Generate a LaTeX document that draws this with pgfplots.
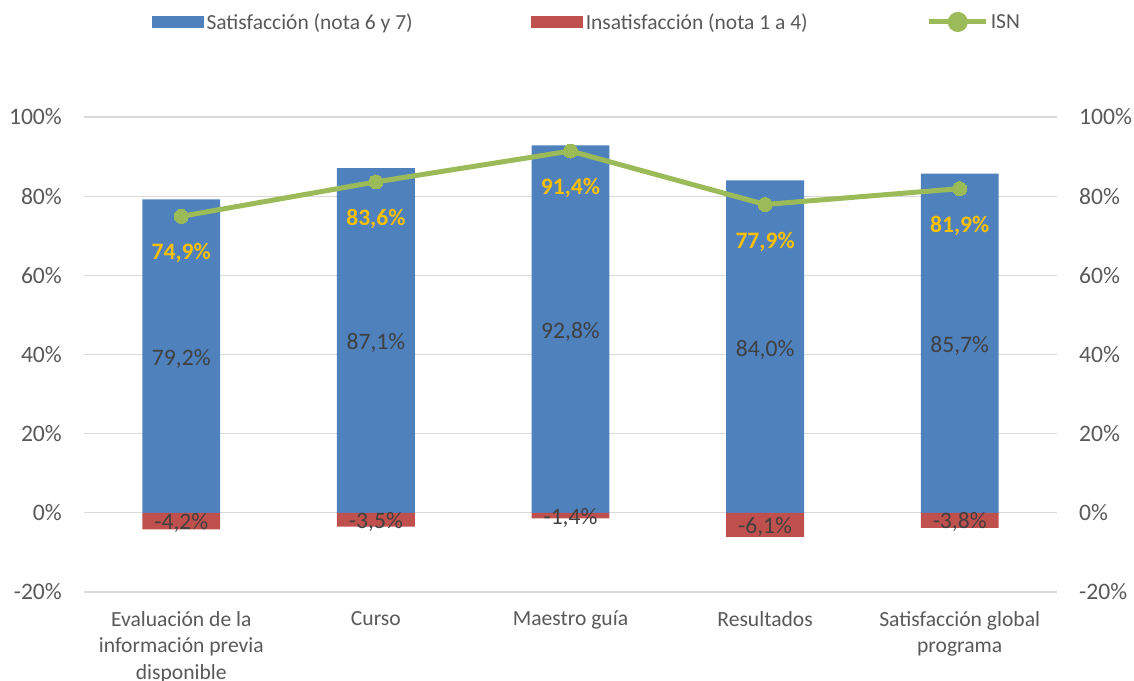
\documentclass[border=0pt]{standalone}
\usepackage{pgfplots}
\pgfplotsset{compat=1.18}
\usepackage{pgfplotstable}
\usepackage{fontspec}
\setmainfont{Carlito}
\definecolor{cBlue}{HTML}{4F81BD}
\definecolor{cRed}{HTML}{C0504D}
\definecolor{cGreen}{HTML}{9BBB59}
\definecolor{cGold}{HTML}{FFC000}
\definecolor{cGrid}{HTML}{D9D9D9}
\definecolor{cTick}{HTML}{595959}
\definecolor{cLab}{HTML}{404040}
\pgfplotstableread{
x sat ins isn
0 79.2 -4.2 74.9
1 87.1 -3.5 83.6
2 92.8 -1.4 91.4
3 84.0 -6.1 77.9
4 85.7 -3.8 81.9
}\data
\begin{document}
\begin{tikzpicture}
\useasboundingbox (0,0) rectangle (1134pt,680pt);
\begin{axis}[
  at={(84pt,88pt)}, anchor=south west,
  scale only axis, width=973pt, height=475pt,
  xmin=-0.5, xmax=4.5, ymin=-20, ymax=100,
  axis line style={draw=none},
  major tick length=0pt,
  ymajorgrids, grid style={color=cGrid, line width=1.3pt},
  ytick={-20,0,20,40,60,80,100},
  yticklabels={-20\%,0\%,20\%,40\%,60\%,80\%,100\%},
  xtick={0,1,2,3,4},
  xticklabels={Evaluación de la\\información previa\\disponible, Curso, Maestro guía, Resultados, Satisfacción global\\programa},
  yticklabel style={font=\fontsize{23.6}{28}\selectfont, text=cTick, inner sep=0pt, xshift=-22pt},
  xticklabel style={font=\fontsize{21.6}{26.5}\selectfont, text=cTick, align=center, inner sep=0pt, yshift=-19pt},
  legend style={at={(0.0699,1.2)}, anchor=west, draw=none, fill=none,
    inner sep=0pt, outer sep=0pt, legend columns=3,
    font=\fontsize{21.5}{26}\selectfont, text=cTick,
    nodes={inner sep=2.5pt, anchor=west},
    /tikz/every even column/.append style={column sep=116pt}},
]
\addplot[ybar, bar width=0.4, bar shift=0pt, fill=cBlue, draw=none,
  legend image code/.code={\fill[cBlue] (0pt,-6pt) rectangle (52pt,6pt);}]
  table[x=x, y=sat] {\data};
\addlegendentry{Satisfacción (nota 6 y 7)}
\addplot[ybar, bar width=0.4, bar shift=0pt, fill=cRed, draw=none,
  legend image code/.code={\fill[cRed] (0pt,-6pt) rectangle (52pt,6pt);}]
  table[x=x, y=ins] {\data};
\addlegendentry{Insatisfacción (nota 1 a 4)}
\addplot[color=cGreen, line width=5pt, mark=*, mark size=7pt,
  mark options={fill=cGreen, draw=cGreen, line width=0pt},
  legend image code/.code={\draw[cGreen, line width=5pt] (0pt,0pt) -- (57pt,0pt);
    \fill[cGreen] (29pt,0pt) circle (7.5pt);}]
  table[x=x, y=isn] {\data};
\addlegendentry{ISN}
% labels inside satisfaction bars
\addplot[draw=none, mark=none, forget plot, point meta=\thisrow{sat},
  nodes near coords={\pgfmathprintnumber[fixed,fixed zerofill,precision=1,use comma,assume math mode=true]{\pgfplotspointmeta}\%},
  every node near coord/.append style={anchor=center, yshift=-3pt, font=\fontsize{23.6}{28}\selectfont, text=cLab, inner sep=0pt}]
  table[x=x, y expr=\thisrow{sat}/2] {\data};
% labels on dissatisfaction bars
\addplot[draw=none, mark=none, forget plot, point meta=\thisrow{ins},
  nodes near coords={\pgfmathprintnumber[fixed,fixed zerofill,precision=1,use comma,assume math mode=true]{\pgfplotspointmeta}\%},
  every node near coord/.append style={anchor=center, yshift=-2pt, font=\fontsize{23.6}{28}\selectfont, text=cLab, inner sep=0pt}]
  table[x=x, y expr=\thisrow{ins}/2] {\data};
% ISN labels
\addplot[draw=none, mark=none, forget plot, point meta=\thisrow{isn},
  nodes near coords={\pgfmathprintnumber[fixed,fixed zerofill,precision=1,use comma,assume math mode=true]{\pgfplotspointmeta}\%},
  every node near coord/.append style={anchor=center, yshift=-37pt, font=\bfseries\fontsize{23.6}{28}\selectfont, text=cGold, inner sep=0pt}]
  table[x=x, y=isn] {\data};
\end{axis}
\begin{axis}[
  at={(84pt,88pt)}, anchor=south west,
  scale only axis, width=973pt, height=475pt,
  xmin=-0.5, xmax=4.5, ymin=-20, ymax=100,
  axis line style={draw=none},
  major tick length=0pt,
  axis y line*=right, axis x line=none,
  ytick={-20,0,20,40,60,80,100},
  yticklabels={-20\%,0\%,20\%,40\%,60\%,80\%,100\%},
  yticklabel style={font=\fontsize{23.6}{28}\selectfont, text=cTick, inner sep=0pt, xshift=22pt, anchor=west},
]
\addplot[draw=none] coordinates {(0,0)};
\end{axis}
\end{tikzpicture}
\end{document}
